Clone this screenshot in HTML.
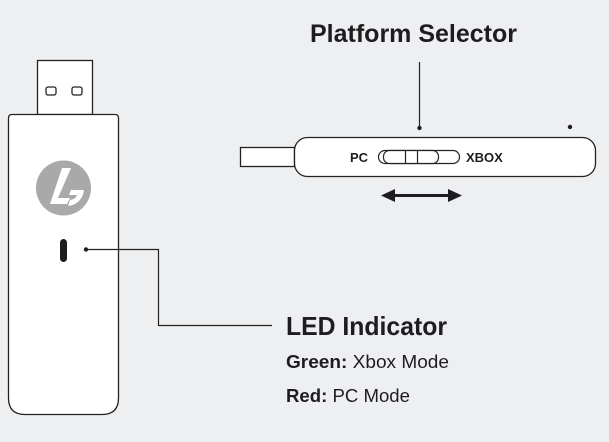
<!DOCTYPE html>
<html><head><style>
html,body{margin:0;padding:0;background:#eeeff1;width:609px;height:442px;overflow:hidden}
svg{display:block}
text{font-family:"Liberation Sans",sans-serif;fill:#1d1d1f}
</style></head><body>
<svg width="609" height="442" viewBox="0 0 609 442">
<rect width="609" height="442" fill="#eeeff1"/>
<rect x="37.5" y="60.5" width="55" height="54" fill="#fff" stroke="#222" stroke-width="1.3"/>
<rect x="46" y="87" width="10" height="8" rx="2" fill="none" stroke="#222" stroke-width="1.3"/>
<rect x="72" y="87" width="10" height="8" rx="2" fill="none" stroke="#222" stroke-width="1.3"/>
<path d="M8.5 118 Q8.5 114.5 12 114.5 L115 114.5 Q118.5 114.5 118.5 118 L118.5 398 Q118.5 414.5 102 414.5 L25 414.5 Q8.5 414.5 8.5 398 Z" fill="#fff" stroke="#222" stroke-width="1.3"/>
<circle cx="63.5" cy="188" r="27.5" fill="#a9a9a9"/>
<path d="M62 168 L71 168 L58 198 L70 198 L67 204 L50 204 Z" fill="#fff"/>
<path d="M71 190 L84 190 Q82 204 68 206 L70 200 Q76 199 77 195 L69 195 Z" fill="#fff"/>
<rect x="60" y="239" width="7" height="23" rx="3.5" fill="#1d1d1f"/>
<circle cx="86" cy="249.5" r="2.2" fill="#1d1d1f"/>
<polyline points="86,249.5 158.5,249.5 158.5,325.5 272,325.5" fill="none" stroke="#222" stroke-width="1.2"/>
<rect x="240.5" y="147.5" width="54" height="19" fill="#fff" stroke="#222" stroke-width="1.3"/>
<rect x="294.5" y="137.5" width="301" height="39" rx="13" fill="#fff" stroke="#222" stroke-width="1.3"/>
<text x="350" y="162" font-size="13" font-weight="bold">PC</text>
<text x="466" y="162" font-size="13" font-weight="bold">XBOX</text>
<rect x="378.5" y="150.5" width="81" height="13" rx="6.5" fill="#fff" stroke="#222" stroke-width="1.2"/>
<rect x="383.5" y="150.5" width="55" height="13" rx="6" fill="#fff" stroke="#222" stroke-width="1.2"/>
<line x1="405.5" y1="150.5" x2="405.5" y2="163.5" stroke="#222" stroke-width="1.2"/>
<line x1="417.5" y1="150.5" x2="417.5" y2="163.5" stroke="#222" stroke-width="1.2"/>
<line x1="419.5" y1="62" x2="419.5" y2="128" stroke="#222" stroke-width="1.2"/>
<circle cx="419.5" cy="128" r="2.2" fill="#1d1d1f"/>
<circle cx="570" cy="127" r="2.2" fill="#1d1d1f"/>
<line x1="392" y1="195.5" x2="452" y2="195.5" stroke="#1d1d1f" stroke-width="3"/>
<polygon points="381,195.5 395,189 395,202" fill="#1d1d1f"/>
<polygon points="462,195.5 448,189 448,202" fill="#1d1d1f"/>
<text x="310" y="42" font-size="25" font-weight="bold" textLength="207" lengthAdjust="spacingAndGlyphs">Platform Selector</text>
<text x="286" y="335" font-size="26" font-weight="bold" textLength="161" lengthAdjust="spacingAndGlyphs">LED Indicator</text>
<text x="286" y="368" font-size="18" textLength="163" lengthAdjust="spacingAndGlyphs"><tspan font-weight="bold">Green:</tspan> Xbox Mode</text>
<text x="286" y="402" font-size="18" textLength="124" lengthAdjust="spacingAndGlyphs"><tspan font-weight="bold">Red:</tspan> PC Mode</text>
</svg>
</body></html>
